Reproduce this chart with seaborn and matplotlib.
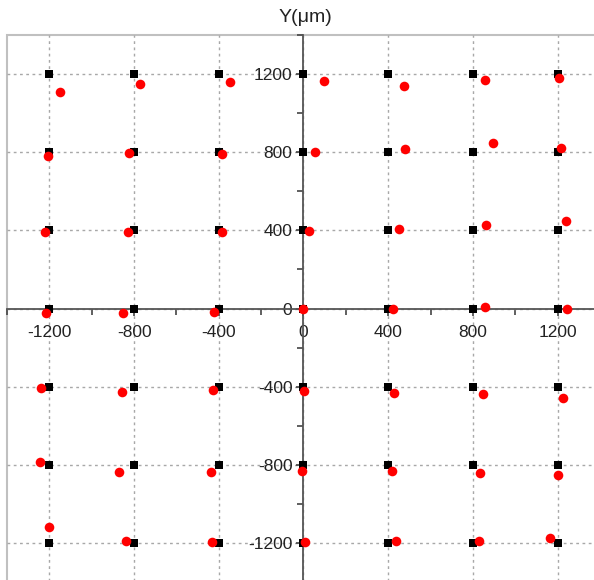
import numpy as np
import pandas as pd
import matplotlib
matplotlib.use("Agg")
import matplotlib.pyplot as plt
from matplotlib.ticker import MultipleLocator
import seaborn as sns

# ---- data ----
grid_levels = [-1200, -800, -400, 0, 400, 800, 1200]

# design (target) positions, row by row from top
target_x = [-1200, -800, -400, 0, 400, 800, 1200] * 7
target_y = ([1200] * 7 + [800] * 7 + [400] * 7 + [0] * 7 +
            [-400] * 7 + [-800] * 7 + [-1200] * 7)

# measured positions, row by row from top
measured_x = [-1150, -770, -345, 95, 475, 856, 1208,
              -1205, -822, -387, 53, 477, 893, 1215,
              -1219, -828, -387, 28, 449, 860, 1239,
              -1214, -853, -421, 0, 422, 855, 1244,
              -1241, -857, -425, 2, 425, 847, 1225,
              -1244, -871, -439, -5, 419, 834, 1203,
              -1200, -839, -431, 8, 436, 828, 1165]
measured_y = [1110, 1150, 1160, 1165, 1140, 1168, 1180,
              782, 797, 792, 802, 818, 849, 823,
              392, 393, 390, 395, 409, 426, 450,
              -24, -22, -16, 0, 0, 7, -2,
              -409, -426, -419, -423, -430, -440, -459,
              -784, -837, -835, -832, -832, -840, -854,
              -1118, -1191, -1196, -1195, -1191, -1188, -1176]

axis_label = "Y(μm)"

# ---- plot ----
sns.set_theme(style="white")
plt.rcParams["font.family"] = ["Liberation Sans", "DejaVu Sans"]
plt.rcParams["axes.unicode_minus"] = False

W, H = 594, 580
fig = plt.figure(figsize=(W / 100, H / 100), dpi=100)
left_px, top_px, right_px, bottom_px = 7, 35, 600, 583
ax = fig.add_axes([left_px / W, (H - bottom_px) / H,
                   (right_px - left_px) / W, (bottom_px - top_px) / H])

df_t = pd.DataFrame({"x": target_x, "y": target_y})
df_m = pd.DataFrame({"x": measured_x, "y": measured_y})

sns.scatterplot(data=df_t, x="x", y="y", marker="s", color="black",
                s=36, linewidth=0, ax=ax, zorder=4, clip_on=False)
sns.scatterplot(data=df_m, x="x", y="y", marker="o", color="#ff0000",
                s=48, linewidth=0, ax=ax, zorder=5, clip_on=False)

ax.set_xlim(-1400, 1400)
ax.set_ylim(-1405, 1400)
ax.set_xlabel("")
ax.set_ylabel("")

ax.xaxis.set_minor_locator(MultipleLocator(200))
ax.yaxis.set_minor_locator(MultipleLocator(200))
ax.set_xticks(grid_levels)
ax.set_yticks(grid_levels)

# centered axes
for side in ["left", "bottom"]:
    ax.spines[side].set_position("zero")
    ax.spines[side].set_color("#555555")
    ax.spines[side].set_linewidth(1.3)
    ax.spines[side].set_zorder(3)
for side in ["right", "top"]:
    ax.spines[side].set_visible(False)

# outer frame via axes patch
ax.patch.set_edgecolor("#c0c0c0")
ax.patch.set_linewidth(1.5)

ax.tick_params(axis="both", which="major", direction="out", length=5,
               width=1.2, color="#444444", labelsize=12.5, labelcolor="#222222")
ax.tick_params(axis="both", which="minor", direction="out", length=4,
               width=1.2, color="#444444")
ax.tick_params(axis="x", which="major", pad=7)
ax.tick_params(axis="y", which="major", pad=3)
ax.xaxis.set_ticks_position("bottom")
ax.yaxis.set_ticks_position("left")

ax.grid(True, which="major", color="#a8a8a8", linestyle=(0, (2, 2.5)),
        linewidth=1.0, zorder=0)
ax.set_axisbelow(True)

fig.text(305 / W, 1 - 17.5 / H, axis_label, ha="center", va="center",
         fontsize=14, color="#222222")

fig.savefig("out.png", dpi=100)
